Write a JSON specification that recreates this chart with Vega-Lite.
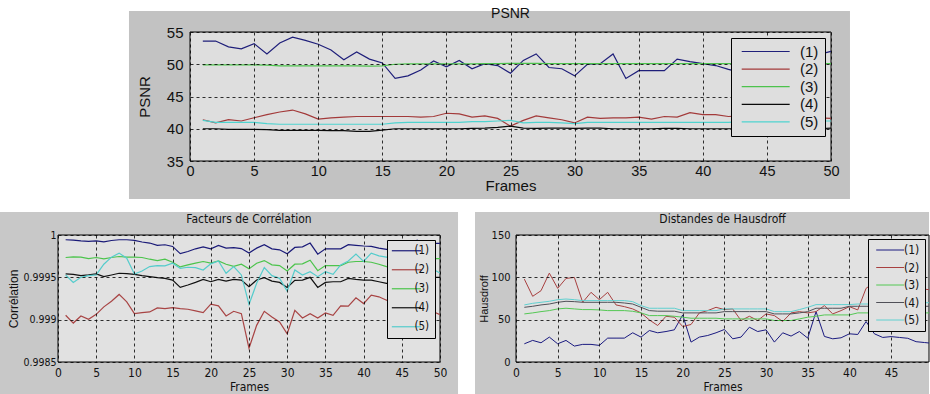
{
"$schema":"https://vega.github.io/schema/vega-lite/v6.json",
"background":"white",
"padding":{"top":6,"left":0,"right":0,"bottom":0},
"bounds":"full",
"spacing":12,
"config":{
 "view":{"stroke":null,"fill":null},
 "axis":{"grid":true,"gridColor":"#000000","gridDash":[3,3],"gridWidth":1,"gridOpacity":0.8,"domain":false,"ticks":false,"labelColor":"#111111","titleColor":"#111111","titleFontWeight":"normal","labelFlush":false,"labelOverlap":false},
 "title":{"color":"#111111","fontWeight":"normal","frame":"group"}
},
"resolve":{"scale":{"color":"independent","strokeWidth":"independent"},"legend":{"color":"independent"}},
"datasets":{
"psnr":[
{"f":1,"s":"(1)","v":53.6},{"f":2,"s":"(1)","v":53.6},{"f":3,"s":"(1)","v":52.7},{"f":4,"s":"(1)","v":52.4},{"f":5,"s":"(1)","v":53.2},{"f":6,"s":"(1)","v":51.6},{"f":7,"s":"(1)","v":53.3},{"f":8,"s":"(1)","v":54.2},{"f":9,"s":"(1)","v":53.7},{"f":10,"s":"(1)","v":53.1},
{"f":11,"s":"(1)","v":52.2},{"f":12,"s":"(1)","v":50.7},{"f":13,"s":"(1)","v":51.9},{"f":14,"s":"(1)","v":50.8},{"f":15,"s":"(1)","v":50.2},{"f":16,"s":"(1)","v":47.8},{"f":17,"s":"(1)","v":48.2},{"f":18,"s":"(1)","v":49.1},{"f":19,"s":"(1)","v":50.5},{"f":20,"s":"(1)","v":49.6},
{"f":21,"s":"(1)","v":50.6},{"f":22,"s":"(1)","v":49.3},{"f":23,"s":"(1)","v":50.1},{"f":24,"s":"(1)","v":49.8},{"f":25,"s":"(1)","v":48.6},{"f":26,"s":"(1)","v":50.6},{"f":27,"s":"(1)","v":51.6},{"f":28,"s":"(1)","v":49.5},{"f":29,"s":"(1)","v":49.3},{"f":30,"s":"(1)","v":48.2},
{"f":31,"s":"(1)","v":50.0},{"f":32,"s":"(1)","v":50.1},{"f":33,"s":"(1)","v":51.6},{"f":34,"s":"(1)","v":47.8},{"f":35,"s":"(1)","v":49.0},{"f":36,"s":"(1)","v":49.0},{"f":37,"s":"(1)","v":49.0},{"f":38,"s":"(1)","v":50.8},{"f":39,"s":"(1)","v":50.4},{"f":40,"s":"(1)","v":50.1},
{"f":41,"s":"(1)","v":49.8},{"f":42,"s":"(1)","v":49.2},{"f":43,"s":"(1)","v":48.7},{"f":44,"s":"(1)","v":49.2},{"f":45,"s":"(1)","v":50.1},{"f":46,"s":"(1)","v":49.6},{"f":47,"s":"(1)","v":50.3},{"f":48,"s":"(1)","v":50.8},{"f":49,"s":"(1)","v":51.5},{"f":50,"s":"(1)","v":52.0},
{"f":1,"s":"(2)","v":41.4},{"f":2,"s":"(2)","v":40.9},{"f":3,"s":"(2)","v":41.4},{"f":4,"s":"(2)","v":41.2},{"f":5,"s":"(2)","v":41.7},{"f":6,"s":"(2)","v":42.2},{"f":7,"s":"(2)","v":42.6},{"f":8,"s":"(2)","v":42.9},{"f":9,"s":"(2)","v":42.3},{"f":10,"s":"(2)","v":41.5},
{"f":11,"s":"(2)","v":41.7},{"f":12,"s":"(2)","v":41.8},{"f":13,"s":"(2)","v":41.9},{"f":14,"s":"(2)","v":41.9},{"f":15,"s":"(2)","v":41.9},{"f":16,"s":"(2)","v":41.9},{"f":17,"s":"(2)","v":41.9},{"f":18,"s":"(2)","v":41.8},{"f":19,"s":"(2)","v":41.9},{"f":20,"s":"(2)","v":42.4},
{"f":21,"s":"(2)","v":42.3},{"f":22,"s":"(2)","v":41.8},{"f":23,"s":"(2)","v":42.0},{"f":24,"s":"(2)","v":41.6},{"f":25,"s":"(2)","v":40.4},{"f":26,"s":"(2)","v":41.3},{"f":27,"s":"(2)","v":42.0},{"f":28,"s":"(2)","v":41.7},{"f":29,"s":"(2)","v":41.4},{"f":30,"s":"(2)","v":40.9},
{"f":31,"s":"(2)","v":41.8},{"f":32,"s":"(2)","v":41.6},{"f":33,"s":"(2)","v":41.7},{"f":34,"s":"(2)","v":41.7},{"f":35,"s":"(2)","v":41.8},{"f":36,"s":"(2)","v":41.5},{"f":37,"s":"(2)","v":41.9},{"f":38,"s":"(2)","v":41.8},{"f":39,"s":"(2)","v":42.5},{"f":40,"s":"(2)","v":42.2},
{"f":41,"s":"(2)","v":42.2},{"f":42,"s":"(2)","v":41.9},{"f":43,"s":"(2)","v":42.0},{"f":44,"s":"(2)","v":42.1},{"f":45,"s":"(2)","v":42.0},{"f":46,"s":"(2)","v":41.9},{"f":47,"s":"(2)","v":42.0},{"f":48,"s":"(2)","v":41.8},{"f":49,"s":"(2)","v":41.7},{"f":50,"s":"(2)","v":41.6},
{"f":1,"s":"(3)","v":49.9},{"f":2,"s":"(3)","v":49.9},{"f":3,"s":"(3)","v":49.9},{"f":4,"s":"(3)","v":49.9},{"f":5,"s":"(3)","v":49.9},{"f":6,"s":"(3)","v":49.85},{"f":7,"s":"(3)","v":49.75},{"f":8,"s":"(3)","v":49.75},{"f":9,"s":"(3)","v":49.75},{"f":10,"s":"(3)","v":49.75},
{"f":11,"s":"(3)","v":49.75},{"f":12,"s":"(3)","v":49.75},{"f":13,"s":"(3)","v":49.75},{"f":14,"s":"(3)","v":49.7},{"f":15,"s":"(3)","v":49.75},{"f":16,"s":"(3)","v":50.0},{"f":17,"s":"(3)","v":50.05},{"f":18,"s":"(3)","v":50.05},{"f":19,"s":"(3)","v":50.05},{"f":20,"s":"(3)","v":50.05},
{"f":21,"s":"(3)","v":50.05},{"f":22,"s":"(3)","v":50.05},{"f":23,"s":"(3)","v":50.1},{"f":24,"s":"(3)","v":50.1},{"f":25,"s":"(3)","v":50.15},{"f":26,"s":"(3)","v":50.15},{"f":27,"s":"(3)","v":50.15},{"f":28,"s":"(3)","v":50.1},{"f":29,"s":"(3)","v":50.1},{"f":30,"s":"(3)","v":50.1},
{"f":31,"s":"(3)","v":50.1},{"f":32,"s":"(3)","v":50.1},{"f":33,"s":"(3)","v":50.1},{"f":34,"s":"(3)","v":50.1},{"f":35,"s":"(3)","v":50.1},{"f":36,"s":"(3)","v":50.1},{"f":37,"s":"(3)","v":50.1},{"f":38,"s":"(3)","v":50.1},{"f":39,"s":"(3)","v":50.1},{"f":40,"s":"(3)","v":50.1},
{"f":41,"s":"(3)","v":50.1},{"f":42,"s":"(3)","v":50.1},{"f":43,"s":"(3)","v":50.1},{"f":44,"s":"(3)","v":50.1},{"f":45,"s":"(3)","v":50.1},{"f":46,"s":"(3)","v":50.1},{"f":47,"s":"(3)","v":50.1},{"f":48,"s":"(3)","v":50.1},{"f":49,"s":"(3)","v":50.1},{"f":50,"s":"(3)","v":50.1},
{"f":1,"s":"(4)","v":40.0},{"f":2,"s":"(4)","v":40.0},{"f":3,"s":"(4)","v":39.9},{"f":4,"s":"(4)","v":39.9},{"f":5,"s":"(4)","v":39.9},{"f":6,"s":"(4)","v":39.85},{"f":7,"s":"(4)","v":39.75},{"f":8,"s":"(4)","v":39.75},{"f":9,"s":"(4)","v":39.75},{"f":10,"s":"(4)","v":39.75},
{"f":11,"s":"(4)","v":39.7},{"f":12,"s":"(4)","v":39.7},{"f":13,"s":"(4)","v":39.6},{"f":14,"s":"(4)","v":39.6},{"f":15,"s":"(4)","v":39.8},{"f":16,"s":"(4)","v":40.0},{"f":17,"s":"(4)","v":40.0},{"f":18,"s":"(4)","v":40.0},{"f":19,"s":"(4)","v":40.0},{"f":20,"s":"(4)","v":40.0},
{"f":21,"s":"(4)","v":40.0},{"f":22,"s":"(4)","v":40.05},{"f":23,"s":"(4)","v":40.1},{"f":24,"s":"(4)","v":40.2},{"f":25,"s":"(4)","v":40.4},{"f":26,"s":"(4)","v":40.1},{"f":27,"s":"(4)","v":40.05},{"f":28,"s":"(4)","v":40.1},{"f":29,"s":"(4)","v":40.1},{"f":30,"s":"(4)","v":40.05},
{"f":31,"s":"(4)","v":40.1},{"f":32,"s":"(4)","v":40.1},{"f":33,"s":"(4)","v":40.0},{"f":34,"s":"(4)","v":40.0},{"f":35,"s":"(4)","v":40.0},{"f":36,"s":"(4)","v":40.0},{"f":37,"s":"(4)","v":40.05},{"f":38,"s":"(4)","v":40.05},{"f":39,"s":"(4)","v":40.0},{"f":40,"s":"(4)","v":40.0},
{"f":41,"s":"(4)","v":40.0},{"f":42,"s":"(4)","v":40.0},{"f":43,"s":"(4)","v":40.0},{"f":44,"s":"(4)","v":40.0},{"f":45,"s":"(4)","v":40.0},{"f":46,"s":"(4)","v":40.0},{"f":47,"s":"(4)","v":40.0},{"f":48,"s":"(4)","v":40.0},{"f":49,"s":"(4)","v":40.0},{"f":50,"s":"(4)","v":40.1},
{"f":1,"s":"(5)","v":41.3},{"f":2,"s":"(5)","v":41.0},{"f":3,"s":"(5)","v":41.0},{"f":4,"s":"(5)","v":41.0},{"f":5,"s":"(5)","v":41.0},{"f":6,"s":"(5)","v":40.8},{"f":7,"s":"(5)","v":40.7},{"f":8,"s":"(5)","v":40.7},{"f":9,"s":"(5)","v":40.7},{"f":10,"s":"(5)","v":40.7},
{"f":11,"s":"(5)","v":40.7},{"f":12,"s":"(5)","v":40.7},{"f":13,"s":"(5)","v":40.7},{"f":14,"s":"(5)","v":40.7},{"f":15,"s":"(5)","v":40.7},{"f":16,"s":"(5)","v":40.9},{"f":17,"s":"(5)","v":41.0},{"f":18,"s":"(5)","v":41.0},{"f":19,"s":"(5)","v":41.0},{"f":20,"s":"(5)","v":41.0},
{"f":21,"s":"(5)","v":41.0},{"f":22,"s":"(5)","v":41.1},{"f":23,"s":"(5)","v":41.1},{"f":24,"s":"(5)","v":41.2},{"f":25,"s":"(5)","v":41.3},{"f":26,"s":"(5)","v":40.9},{"f":27,"s":"(5)","v":41.0},{"f":28,"s":"(5)","v":41.0},{"f":29,"s":"(5)","v":40.9},{"f":30,"s":"(5)","v":40.8},
{"f":31,"s":"(5)","v":41.0},{"f":32,"s":"(5)","v":41.0},{"f":33,"s":"(5)","v":41.0},{"f":34,"s":"(5)","v":41.0},{"f":35,"s":"(5)","v":41.0},{"f":36,"s":"(5)","v":41.0},{"f":37,"s":"(5)","v":41.0},{"f":38,"s":"(5)","v":41.0},{"f":39,"s":"(5)","v":41.0},{"f":40,"s":"(5)","v":41.0},
{"f":41,"s":"(5)","v":41.0},{"f":42,"s":"(5)","v":41.0},{"f":43,"s":"(5)","v":41.1},{"f":44,"s":"(5)","v":41.1},{"f":45,"s":"(5)","v":41.1},{"f":46,"s":"(5)","v":41.1},{"f":47,"s":"(5)","v":41.1},{"f":48,"s":"(5)","v":41.1},{"f":49,"s":"(5)","v":41.2},{"f":50,"s":"(5)","v":41.2}
],
"corr":[
{"f":1,"s":"(1)","v":0.999944},{"f":2,"s":"(1)","v":0.99994},{"f":3,"s":"(1)","v":0.99993},{"f":4,"s":"(1)","v":0.999925},{"f":5,"s":"(1)","v":0.99993},{"f":6,"s":"(1)","v":0.99992},{"f":7,"s":"(1)","v":0.999935},{"f":8,"s":"(1)","v":0.999944},{"f":9,"s":"(1)","v":0.999944},{"f":10,"s":"(1)","v":0.999937},
{"f":11,"s":"(1)","v":0.999917},{"f":12,"s":"(1)","v":0.999905},{"f":13,"s":"(1)","v":0.999877},{"f":14,"s":"(1)","v":0.999885},{"f":15,"s":"(1)","v":0.999865},{"f":16,"s":"(1)","v":0.99978},{"f":17,"s":"(1)","v":0.999805},{"f":18,"s":"(1)","v":0.999837},{"f":19,"s":"(1)","v":0.99986},{"f":20,"s":"(1)","v":0.999837},
{"f":21,"s":"(1)","v":0.999877},{"f":22,"s":"(1)","v":0.999845},{"f":23,"s":"(1)","v":0.99985},{"f":24,"s":"(1)","v":0.99984},{"f":25,"s":"(1)","v":0.999786},{"f":26,"s":"(1)","v":0.999845},{"f":27,"s":"(1)","v":0.999885},{"f":28,"s":"(1)","v":0.999837},{"f":29,"s":"(1)","v":0.999825},{"f":30,"s":"(1)","v":0.999778},
{"f":31,"s":"(1)","v":0.999853},{"f":32,"s":"(1)","v":0.99986},{"f":33,"s":"(1)","v":0.999905},{"f":34,"s":"(1)","v":0.999774},{"f":35,"s":"(1)","v":0.999837},{"f":36,"s":"(1)","v":0.999837},{"f":37,"s":"(1)","v":0.999837},{"f":38,"s":"(1)","v":0.999885},{"f":39,"s":"(1)","v":0.999877},{"f":40,"s":"(1)","v":0.99987},
{"f":41,"s":"(1)","v":0.999865},{"f":42,"s":"(1)","v":0.999845},{"f":43,"s":"(1)","v":0.99983},{"f":44,"s":"(1)","v":0.99984},{"f":45,"s":"(1)","v":0.99982},{"f":46,"s":"(1)","v":0.99983},{"f":47,"s":"(1)","v":0.99994},{"f":48,"s":"(1)","v":0.99991},{"f":49,"s":"(1)","v":0.9999},{"f":50,"s":"(1)","v":0.9999},
{"f":1,"s":"(2)","v":0.999052},{"f":2,"s":"(2)","v":0.99896},{"f":3,"s":"(2)","v":0.999044},{"f":4,"s":"(2)","v":0.999004},{"f":5,"s":"(2)","v":0.999063},{"f":6,"s":"(2)","v":0.999151},{"f":7,"s":"(2)","v":0.999218},{"f":8,"s":"(2)","v":0.999298},{"f":9,"s":"(2)","v":0.99921},{"f":10,"s":"(2)","v":0.999071},
{"f":11,"s":"(2)","v":0.999083},{"f":12,"s":"(2)","v":0.999091},{"f":13,"s":"(2)","v":0.999139},{"f":14,"s":"(2)","v":0.999131},{"f":15,"s":"(2)","v":0.999143},{"f":16,"s":"(2)","v":0.999131},{"f":17,"s":"(2)","v":0.999123},{"f":18,"s":"(2)","v":0.999103},{"f":19,"s":"(2)","v":0.999083},{"f":20,"s":"(2)","v":0.999183},
{"f":21,"s":"(2)","v":0.999163},{"f":22,"s":"(2)","v":0.999044},{"f":23,"s":"(2)","v":0.999099},{"f":24,"s":"(2)","v":0.999071},{"f":25,"s":"(2)","v":0.998663},{"f":26,"s":"(2)","v":0.998933},{"f":27,"s":"(2)","v":0.999099},{"f":28,"s":"(2)","v":0.999032},{"f":29,"s":"(2)","v":0.998972},{"f":30,"s":"(2)","v":0.998833},
{"f":31,"s":"(2)","v":0.999111},{"f":32,"s":"(2)","v":0.99902},{"f":33,"s":"(2)","v":0.999071},{"f":34,"s":"(2)","v":0.99902},{"f":35,"s":"(2)","v":0.999079},{"f":36,"s":"(2)","v":0.999052},{"f":37,"s":"(2)","v":0.999163},{"f":38,"s":"(2)","v":0.999159},{"f":39,"s":"(2)","v":0.999258},{"f":40,"s":"(2)","v":0.99919},
{"f":41,"s":"(2)","v":0.99929},{"f":42,"s":"(2)","v":0.99927},{"f":43,"s":"(2)","v":0.99923},{"f":44,"s":"(2)","v":0.99921},{"f":45,"s":"(2)","v":0.99919},{"f":46,"s":"(2)","v":0.99918},{"f":47,"s":"(2)","v":0.99917},{"f":48,"s":"(2)","v":0.99915},{"f":49,"s":"(2)","v":0.9991},{"f":50,"s":"(2)","v":0.99906},
{"f":1,"s":"(3)","v":0.999734},{"f":2,"s":"(3)","v":0.999742},{"f":3,"s":"(3)","v":0.999738},{"f":4,"s":"(3)","v":0.999722},{"f":5,"s":"(3)","v":0.999734},{"f":6,"s":"(3)","v":0.999718},{"f":7,"s":"(3)","v":0.999734},{"f":8,"s":"(3)","v":0.999746},{"f":9,"s":"(3)","v":0.999738},{"f":10,"s":"(3)","v":0.999738},
{"f":11,"s":"(3)","v":0.999734},{"f":12,"s":"(3)","v":0.999714},{"f":13,"s":"(3)","v":0.999698},{"f":14,"s":"(3)","v":0.999714},{"f":15,"s":"(3)","v":0.999678},{"f":16,"s":"(3)","v":0.999623},{"f":17,"s":"(3)","v":0.999647},{"f":18,"s":"(3)","v":0.999667},{"f":19,"s":"(3)","v":0.999687},{"f":20,"s":"(3)","v":0.999667},
{"f":21,"s":"(3)","v":0.999694},{"f":22,"s":"(3)","v":0.999655},{"f":23,"s":"(3)","v":0.99963},{"f":24,"s":"(3)","v":0.999655},{"f":25,"s":"(3)","v":0.9996},{"f":26,"s":"(3)","v":0.999667},{"f":27,"s":"(3)","v":0.999698},{"f":28,"s":"(3)","v":0.999647},{"f":29,"s":"(3)","v":0.999639},{"f":30,"s":"(3)","v":0.999575},
{"f":31,"s":"(3)","v":0.999655},{"f":32,"s":"(3)","v":0.999659},{"f":33,"s":"(3)","v":0.999702},{"f":34,"s":"(3)","v":0.999579},{"f":35,"s":"(3)","v":0.999639},{"f":36,"s":"(3)","v":0.999639},{"f":37,"s":"(3)","v":0.999639},{"f":38,"s":"(3)","v":0.999678},{"f":39,"s":"(3)","v":0.999687},{"f":40,"s":"(3)","v":0.999687},
{"f":41,"s":"(3)","v":0.999678},{"f":42,"s":"(3)","v":0.999655},{"f":43,"s":"(3)","v":0.999627},{"f":44,"s":"(3)","v":0.99962},{"f":45,"s":"(3)","v":0.99963},{"f":46,"s":"(3)","v":0.99966},{"f":47,"s":"(3)","v":0.99969},{"f":48,"s":"(3)","v":0.99971},{"f":49,"s":"(3)","v":0.99972},{"f":50,"s":"(3)","v":0.99972},
{"f":1,"s":"(4)","v":0.99954},{"f":2,"s":"(4)","v":0.999536},{"f":3,"s":"(4)","v":0.99952},{"f":4,"s":"(4)","v":0.999528},{"f":5,"s":"(4)","v":0.99954},{"f":6,"s":"(4)","v":0.999508},{"f":7,"s":"(4)","v":0.999528},{"f":8,"s":"(4)","v":0.999548},{"f":9,"s":"(4)","v":0.999544},{"f":10,"s":"(4)","v":0.999536},
{"f":11,"s":"(4)","v":0.99952},{"f":12,"s":"(4)","v":0.999508},{"f":13,"s":"(4)","v":0.999496},{"f":14,"s":"(4)","v":0.999488},{"f":15,"s":"(4)","v":0.999468},{"f":16,"s":"(4)","v":0.999381},{"f":17,"s":"(4)","v":0.999409},{"f":18,"s":"(4)","v":0.99944},{"f":19,"s":"(4)","v":0.999476},{"f":20,"s":"(4)","v":0.999448},
{"f":21,"s":"(4)","v":0.999476},{"f":22,"s":"(4)","v":0.999456},{"f":23,"s":"(4)","v":0.999476},{"f":24,"s":"(4)","v":0.999468},{"f":25,"s":"(4)","v":0.999389},{"f":26,"s":"(4)","v":0.999468},{"f":27,"s":"(4)","v":0.999496},{"f":28,"s":"(4)","v":0.999456},{"f":29,"s":"(4)","v":0.99944},{"f":30,"s":"(4)","v":0.999381},
{"f":31,"s":"(4)","v":0.999464},{"f":32,"s":"(4)","v":0.999468},{"f":33,"s":"(4)","v":0.9995},{"f":34,"s":"(4)","v":0.999381},{"f":35,"s":"(4)","v":0.99944},{"f":36,"s":"(4)","v":0.999448},{"f":37,"s":"(4)","v":0.999448},{"f":38,"s":"(4)","v":0.999488},{"f":39,"s":"(4)","v":0.999476},{"f":40,"s":"(4)","v":0.999468},
{"f":41,"s":"(4)","v":0.999468},{"f":42,"s":"(4)","v":0.999448},{"f":43,"s":"(4)","v":0.999429},{"f":44,"s":"(4)","v":0.99943},{"f":45,"s":"(4)","v":0.99944},{"f":46,"s":"(4)","v":0.99946},{"f":47,"s":"(4)","v":0.99948},{"f":48,"s":"(4)","v":0.9995},{"f":49,"s":"(4)","v":0.9995},{"f":50,"s":"(4)","v":0.9995},
{"f":1,"s":"(5)","v":0.999528},{"f":2,"s":"(5)","v":0.99944},{"f":3,"s":"(5)","v":0.9995},{"f":4,"s":"(5)","v":0.99952},{"f":5,"s":"(5)","v":0.999528},{"f":6,"s":"(5)","v":0.999655},{"f":7,"s":"(5)","v":0.999738},{"f":8,"s":"(5)","v":0.999786},{"f":9,"s":"(5)","v":0.999726},{"f":10,"s":"(5)","v":0.99954},
{"f":11,"s":"(5)","v":0.999575},{"f":12,"s":"(5)","v":0.999627},{"f":13,"s":"(5)","v":0.999639},{"f":14,"s":"(5)","v":0.999635},{"f":15,"s":"(5)","v":0.999667},{"f":16,"s":"(5)","v":0.999607},{"f":17,"s":"(5)","v":0.999619},{"f":18,"s":"(5)","v":0.999615},{"f":19,"s":"(5)","v":0.999587},{"f":20,"s":"(5)","v":0.999659},
{"f":21,"s":"(5)","v":0.999694},{"f":22,"s":"(5)","v":0.999548},{"f":23,"s":"(5)","v":0.999627},{"f":24,"s":"(5)","v":0.999528},{"f":25,"s":"(5)","v":0.999179},{"f":26,"s":"(5)","v":0.999429},{"f":27,"s":"(5)","v":0.999615},{"f":28,"s":"(5)","v":0.99952},{"f":29,"s":"(5)","v":0.999488},{"f":30,"s":"(5)","v":0.999337},
{"f":31,"s":"(5)","v":0.999587},{"f":32,"s":"(5)","v":0.999528},{"f":33,"s":"(5)","v":0.999567},{"f":34,"s":"(5)","v":0.999508},{"f":35,"s":"(5)","v":0.999567},{"f":36,"s":"(5)","v":0.999536},{"f":37,"s":"(5)","v":0.999647},{"f":38,"s":"(5)","v":0.999694},{"f":39,"s":"(5)","v":0.999774},{"f":40,"s":"(5)","v":0.999687},
{"f":41,"s":"(5)","v":0.999786},{"f":42,"s":"(5)","v":0.999754},{"f":43,"s":"(5)","v":0.999738},{"f":44,"s":"(5)","v":0.99972},{"f":45,"s":"(5)","v":0.9997},{"f":46,"s":"(5)","v":0.99968},{"f":47,"s":"(5)","v":0.99967},{"f":48,"s":"(5)","v":0.99965},{"f":49,"s":"(5)","v":0.9996},{"f":50,"s":"(5)","v":0.99955}
],
"haus":[
{"f":1,"s":"(1)","v":21.5},{"f":2,"s":"(1)","v":25.5},{"f":3,"s":"(1)","v":22.7},{"f":4,"s":"(1)","v":29.4},{"f":5,"s":"(1)","v":21.5},{"f":6,"s":"(1)","v":25.5},{"f":7,"s":"(1)","v":18.8},{"f":8,"s":"(1)","v":20.8},{"f":9,"s":"(1)","v":20.8},{"f":10,"s":"(1)","v":19.6},
{"f":11,"s":"(1)","v":28.2},{"f":12,"s":"(1)","v":28.2},{"f":13,"s":"(1)","v":28.2},{"f":14,"s":"(1)","v":34.5},{"f":15,"s":"(1)","v":29.4},{"f":16,"s":"(1)","v":37.2},{"f":17,"s":"(1)","v":34.5},{"f":18,"s":"(1)","v":36},{"f":19,"s":"(1)","v":38},{"f":20,"s":"(1)","v":55.6},
{"f":21,"s":"(1)","v":23.5},{"f":22,"s":"(1)","v":29.4},{"f":23,"s":"(1)","v":31.3},{"f":24,"s":"(1)","v":34.5},{"f":25,"s":"(1)","v":38.4},{"f":26,"s":"(1)","v":27.4},{"f":27,"s":"(1)","v":29.4},{"f":28,"s":"(1)","v":41.1},{"f":29,"s":"(1)","v":36},{"f":30,"s":"(1)","v":38},
{"f":31,"s":"(1)","v":23.5},{"f":32,"s":"(1)","v":34.5},{"f":33,"s":"(1)","v":30.6},{"f":34,"s":"(1)","v":36},{"f":35,"s":"(1)","v":28.2},{"f":36,"s":"(1)","v":59.5},{"f":37,"s":"(1)","v":30.2},{"f":38,"s":"(1)","v":27.4},{"f":39,"s":"(1)","v":28.6},{"f":40,"s":"(1)","v":33.3},
{"f":41,"s":"(1)","v":32.5},{"f":42,"s":"(1)","v":47.8},{"f":43,"s":"(1)","v":33.3},{"f":44,"s":"(1)","v":29},{"f":45,"s":"(1)","v":30},{"f":46,"s":"(1)","v":29},{"f":47,"s":"(1)","v":28},{"f":48,"s":"(1)","v":24},{"f":49,"s":"(1)","v":23},{"f":50,"s":"(1)","v":22},
{"f":1,"s":"(2)","v":97.9},{"f":2,"s":"(2)","v":77.6},{"f":3,"s":"(2)","v":84.2},{"f":4,"s":"(2)","v":105},{"f":5,"s":"(2)","v":87},{"f":6,"s":"(2)","v":98.7},{"f":7,"s":"(2)","v":99.9},{"f":8,"s":"(2)","v":70.5},{"f":9,"s":"(2)","v":82.3},{"f":10,"s":"(2)","v":73.6},
{"f":11,"s":"(2)","v":82.3},{"f":12,"s":"(2)","v":67.4},{"f":13,"s":"(2)","v":65.4},{"f":14,"s":"(2)","v":62.7},{"f":15,"s":"(2)","v":58},{"f":16,"s":"(2)","v":49.7},{"f":17,"s":"(2)","v":43.1},{"f":18,"s":"(2)","v":54},{"f":19,"s":"(2)","v":52.9},{"f":20,"s":"(2)","v":41.9},
{"f":21,"s":"(2)","v":44.3},{"f":22,"s":"(2)","v":58},{"f":23,"s":"(2)","v":60.7},{"f":24,"s":"(2)","v":64.6},{"f":25,"s":"(2)","v":61.9},{"f":26,"s":"(2)","v":62.7},{"f":27,"s":"(2)","v":49},{"f":28,"s":"(2)","v":54},{"f":29,"s":"(2)","v":49},{"f":30,"s":"(2)","v":56.8},
{"f":31,"s":"(2)","v":54.8},{"f":32,"s":"(2)","v":47.8},{"f":33,"s":"(2)","v":58},{"f":34,"s":"(2)","v":59.5},{"f":35,"s":"(2)","v":58},{"f":36,"s":"(2)","v":59.5},{"f":37,"s":"(2)","v":66.6},{"f":38,"s":"(2)","v":56.8},{"f":39,"s":"(2)","v":60.7},{"f":40,"s":"(2)","v":65.4},
{"f":41,"s":"(2)","v":61.5},{"f":42,"s":"(2)","v":87},{"f":43,"s":"(2)","v":94},{"f":44,"s":"(2)","v":95},{"f":45,"s":"(2)","v":92},{"f":46,"s":"(2)","v":90},{"f":47,"s":"(2)","v":89},{"f":48,"s":"(2)","v":88},{"f":49,"s":"(2)","v":86},{"f":50,"s":"(2)","v":85},
{"f":1,"s":"(3)","v":56.8},{"f":2,"s":"(3)","v":58},{"f":3,"s":"(3)","v":59.5},{"f":4,"s":"(3)","v":60.7},{"f":5,"s":"(3)","v":62.7},{"f":6,"s":"(3)","v":63.5},{"f":7,"s":"(3)","v":62.7},{"f":8,"s":"(3)","v":61.9},{"f":9,"s":"(3)","v":61.9},{"f":10,"s":"(3)","v":61.5},
{"f":11,"s":"(3)","v":60.7},{"f":12,"s":"(3)","v":60.7},{"f":13,"s":"(3)","v":60.7},{"f":14,"s":"(3)","v":59.9},{"f":15,"s":"(3)","v":58},{"f":16,"s":"(3)","v":54.8},{"f":17,"s":"(3)","v":54.8},{"f":18,"s":"(3)","v":54.8},{"f":19,"s":"(3)","v":54},{"f":20,"s":"(3)","v":52.9},
{"f":21,"s":"(3)","v":51.7},{"f":22,"s":"(3)","v":51.7},{"f":23,"s":"(3)","v":51.7},{"f":24,"s":"(3)","v":51.7},{"f":25,"s":"(3)","v":50.9},{"f":26,"s":"(3)","v":50.9},{"f":27,"s":"(3)","v":50.9},{"f":28,"s":"(3)","v":50.9},{"f":29,"s":"(3)","v":50.9},{"f":30,"s":"(3)","v":50.9},
{"f":31,"s":"(3)","v":49},{"f":32,"s":"(3)","v":49},{"f":33,"s":"(3)","v":49},{"f":34,"s":"(3)","v":50.9},{"f":35,"s":"(3)","v":52.9},{"f":36,"s":"(3)","v":54},{"f":37,"s":"(3)","v":55.6},{"f":38,"s":"(3)","v":55.6},{"f":39,"s":"(3)","v":55.6},{"f":40,"s":"(3)","v":55.6},
{"f":41,"s":"(3)","v":58},{"f":42,"s":"(3)","v":58},{"f":43,"s":"(3)","v":58},{"f":44,"s":"(3)","v":58},{"f":45,"s":"(3)","v":58},{"f":46,"s":"(3)","v":58},{"f":47,"s":"(3)","v":58},{"f":48,"s":"(3)","v":58},{"f":49,"s":"(3)","v":58},{"f":50,"s":"(3)","v":58},
{"f":1,"s":"(4)","v":64.6},{"f":2,"s":"(4)","v":65.8},{"f":3,"s":"(4)","v":67.4},{"f":4,"s":"(4)","v":68.5},{"f":5,"s":"(4)","v":70.5},{"f":6,"s":"(4)","v":71.7},{"f":7,"s":"(4)","v":71.3},{"f":8,"s":"(4)","v":70.5},{"f":9,"s":"(4)","v":70.5},{"f":10,"s":"(4)","v":70.5},
{"f":11,"s":"(4)","v":70.5},{"f":12,"s":"(4)","v":70.5},{"f":13,"s":"(4)","v":69.7},{"f":14,"s":"(4)","v":68.5},{"f":15,"s":"(4)","v":64.6},{"f":16,"s":"(4)","v":60.7},{"f":17,"s":"(4)","v":60},{"f":18,"s":"(4)","v":60},{"f":19,"s":"(4)","v":60},{"f":20,"s":"(4)","v":58},
{"f":21,"s":"(4)","v":58},{"f":22,"s":"(4)","v":58},{"f":23,"s":"(4)","v":58},{"f":24,"s":"(4)","v":58},{"f":25,"s":"(4)","v":59.5},{"f":26,"s":"(4)","v":59.5},{"f":27,"s":"(4)","v":59.5},{"f":28,"s":"(4)","v":59.5},{"f":29,"s":"(4)","v":59.5},{"f":30,"s":"(4)","v":59.5},
{"f":31,"s":"(4)","v":56.8},{"f":32,"s":"(4)","v":56.8},{"f":33,"s":"(4)","v":56.8},{"f":34,"s":"(4)","v":58},{"f":35,"s":"(4)","v":59.5},{"f":36,"s":"(4)","v":63.5},{"f":37,"s":"(4)","v":63.5},{"f":38,"s":"(4)","v":63.5},{"f":39,"s":"(4)","v":63.5},{"f":40,"s":"(4)","v":65.8},
{"f":41,"s":"(4)","v":65.8},{"f":42,"s":"(4)","v":65.8},{"f":43,"s":"(4)","v":65.8},{"f":44,"s":"(4)","v":65.8},{"f":45,"s":"(4)","v":65.8},{"f":46,"s":"(4)","v":65.8},{"f":47,"s":"(4)","v":65.8},{"f":48,"s":"(4)","v":65.8},{"f":49,"s":"(4)","v":65.8},{"f":50,"s":"(4)","v":65.8},
{"f":1,"s":"(5)","v":67.4},{"f":2,"s":"(5)","v":69.3},{"f":3,"s":"(5)","v":70.5},{"f":4,"s":"(5)","v":71.7},{"f":5,"s":"(5)","v":73.6},{"f":6,"s":"(5)","v":74.4},{"f":7,"s":"(5)","v":73.6},{"f":8,"s":"(5)","v":72.5},{"f":9,"s":"(5)","v":72.5},{"f":10,"s":"(5)","v":72.5},
{"f":11,"s":"(5)","v":72.5},{"f":12,"s":"(5)","v":72.5},{"f":13,"s":"(5)","v":72.5},{"f":14,"s":"(5)","v":71.3},{"f":15,"s":"(5)","v":66.6},{"f":16,"s":"(5)","v":63.5},{"f":17,"s":"(5)","v":63.5},{"f":18,"s":"(5)","v":63.5},{"f":19,"s":"(5)","v":63.5},{"f":20,"s":"(5)","v":60.7},
{"f":21,"s":"(5)","v":60.7},{"f":22,"s":"(5)","v":60.7},{"f":23,"s":"(5)","v":60.7},{"f":24,"s":"(5)","v":60.7},{"f":25,"s":"(5)","v":62.7},{"f":26,"s":"(5)","v":62.7},{"f":27,"s":"(5)","v":62.7},{"f":28,"s":"(5)","v":62.7},{"f":29,"s":"(5)","v":62.7},{"f":30,"s":"(5)","v":62.7},
{"f":31,"s":"(5)","v":59.5},{"f":32,"s":"(5)","v":59.5},{"f":33,"s":"(5)","v":59.5},{"f":34,"s":"(5)","v":61.9},{"f":35,"s":"(5)","v":64.6},{"f":36,"s":"(5)","v":67.8},{"f":37,"s":"(5)","v":67.8},{"f":38,"s":"(5)","v":67.8},{"f":39,"s":"(5)","v":67.8},{"f":40,"s":"(5)","v":67.8},
{"f":41,"s":"(5)","v":68.5},{"f":42,"s":"(5)","v":68.5},{"f":43,"s":"(5)","v":68.5},{"f":44,"s":"(5)","v":69},{"f":45,"s":"(5)","v":69.5},{"f":46,"s":"(5)","v":70},{"f":47,"s":"(5)","v":70},{"f":48,"s":"(5)","v":70},{"f":49,"s":"(5)","v":70},{"f":50,"s":"(5)","v":70}
]
},
"vconcat":[
{"hconcat":[
  {"width":122,"height":129,"data":{"values":[{}]},"mark":{"type":"text","text":""}},
  {"width":641,"height":129,
   "title":{"text":"PSNR","font":"Liberation Sans","fontSize":14,"offset":-10},
   "layer":[
    {"data":{"values":[{}]},"mark":{"type":"rect","fill":"#c2c2c2"},
     "encoding":{"x":{"datum":-4.76},"x2":{"datum":51.48},"y":{"datum":58.26},"y2":{"datum":29.11}}},
    {"data":{"values":[{}]},"mark":{"type":"rect","fill":"#dedede","stroke":"#000000","strokeWidth":1},
     "encoding":{"x":{"datum":0},"x2":{"datum":50},"y":{"datum":55},"y2":{"datum":35}}},
    {"data":{"name":"psnr"},"mark":{"type":"line","clip":true},
     "encoding":{
      "x":{"field":"f","type":"quantitative","scale":{"domain":[0,50],"nice":false},
           "axis":{"zindex":1,"tickCount":11,"labelOverlap":false,"values":[0,5,10,15,20,25,30,35,40,45,50],"title":"Frames","labelFont":"Liberation Sans","labelFontSize":14.5,"titleFont":"Liberation Sans","titleFontSize":15,"labelPadding":3,"titlePadding":1}},
      "y":{"field":"v","type":"quantitative","scale":{"domain":[35,55],"nice":false,"zero":false},
           "axis":{"zindex":1,"tickCount":5,"labelOverlap":false,"values":[35,40,45,50,55],"title":"PSNR","labelFont":"Liberation Sans","labelFontSize":15,"titleFont":"Liberation Sans","titleFontSize":15,"labelPadding":7,"titlePadding":14}},
      "color":{"field":"s","type":"nominal","scale":{"domain":["(1)","(2)","(3)","(4)","(5)"],"range":["#1f1f7a","#a33a3a","#4cc24c","#0a0a0a","#4fd3cf"]},
           "legend":{"title":null,"orient":"top-right","offset":6,"zindex":2,"fillColor":"#dedede","strokeColor":"#000000","padding":6,"symbolType":"M-1,0L9,0","symbolSize":92,"symbolStrokeWidth":2,"symbolOffset":2,"labelOffset":46,"labelFont":"Liberation Sans","labelFontSize":15,"labelColor":"#111111","rowPadding":1.6}},
      "strokeWidth":{"field":"s","type":"ordinal","scale":{"domain":["(1)","(2)","(3)","(4)","(5)"],"range":[1.2,1.2,2,1,2]},"legend":null}
     }}
   ]}
 ],"spacing":10,"bounds":"flush","resolve":{"scale":{"color":"independent","strokeWidth":"independent"},"legend":{"color":"independent"}}},
{"hconcat":[
  {"width":382,"height":127,
   "title":{"text":"Facteurs de Corrélation","font":"Liberation Sans Narrow, DejaVu Sans Condensed, sans-serif","fontSize":12,"offset":-14},
   "layer":[
    {"data":{"values":[{}]},"mark":{"type":"rect","fill":"#c8c8c8"},
     "encoding":{"x":{"datum":-7.59},"x2":{"datum":52.36},"y":{"datum":1.000272},"y2":{"datum":0.99811}}},
    {"data":{"values":[{}]},"mark":{"type":"rect","fill":"#e1e1e1","stroke":"#000000","strokeWidth":1},
     "encoding":{"x":{"datum":0},"x2":{"datum":50},"y":{"datum":1},"y2":{"datum":0.9985}}},
    {"data":{"name":"corr"},"mark":{"type":"line","clip":true},
     "encoding":{
      "x":{"field":"f","type":"quantitative","scale":{"domain":[0,50],"nice":false},
           "axis":{"zindex":1,"tickCount":11,"labelOverlap":false,"values":[0,5,10,15,20,25,30,35,40,45,50],"title":"Frames","labelFont":"Liberation Sans Narrow, DejaVu Sans Condensed, sans-serif","labelFontSize":12,"titleFont":"Liberation Sans Narrow, DejaVu Sans Condensed, sans-serif","titleFontSize":12,"labelPadding":5,"titlePadding":3}},
      "y":{"field":"v","type":"quantitative","scale":{"domain":[0.9985,1],"nice":false,"zero":false},
           "axis":{"zindex":1,"tickCount":4,"labelOverlap":false,"values":[0.9985,0.999,0.9995,1],"format":"~g","title":"Corrélation","labelFont":"Liberation Sans Narrow, DejaVu Sans Condensed, sans-serif","labelFontSize":10.5,"titleFont":"Liberation Sans","titleFontSize":12,"labelPadding":2,"titlePadding":2}},
      "color":{"field":"s","type":"nominal","scale":{"domain":["(1)","(2)","(3)","(4)","(5)"],"range":["#1a1a78","#a84444","#4cc44c","#111111","#55cccc"]},
           "legend":{"title":null,"orient":"top-right","offset":5,"zindex":2,"fillColor":"#e1e1e1","strokeColor":"#000000","padding":5,"symbolType":"M-1,0L9,0","symbolSize":34,"symbolStrokeWidth":1.5,"symbolOffset":-3,"labelOffset":14,"labelFont":"Liberation Sans Narrow, DejaVu Sans Condensed, sans-serif","labelFontSize":11.5,"labelColor":"#111111","rowPadding":6}},
      "strokeWidth":{"field":"s","type":"ordinal","scale":{"domain":["(1)","(2)","(3)","(4)","(5)"],"range":[1.2,1.2,1.6,1.2,1.4]},"legend":null}
     }}
   ]},
  {"width":413,"height":127,
   "title":{"text":"Distandes de Hausdroff","font":"Liberation Sans Narrow, DejaVu Sans Condensed, sans-serif","fontSize":12,"offset":-14},
   "layer":[
    {"data":{"values":[{}]},"mark":{"type":"rect","fill":"#c8c8c8"},
     "encoding":{"x":{"datum":-4.92},"x2":{"datum":49.55},"y":{"datum":177.2},"y2":{"datum":-39}}},
    {"data":{"values":[{}]},"mark":{"type":"rect","fill":"#e1e1e1","stroke":"#000000","strokeWidth":1},
     "encoding":{"x":{"datum":0},"x2":{"datum":49.55},"y":{"datum":150},"y2":{"datum":0}}},
    {"data":{"name":"haus"},"mark":{"type":"line","clip":true},
     "encoding":{
      "x":{"field":"f","type":"quantitative","scale":{"domain":[0,49.55],"nice":false},
           "axis":{"zindex":1,"tickCount":10,"labelOverlap":false,"values":[0,5,10,15,20,25,30,35,40,45],"title":"Frames","labelFont":"Liberation Sans Narrow, DejaVu Sans Condensed, sans-serif","labelFontSize":12,"titleFont":"Liberation Sans Narrow, DejaVu Sans Condensed, sans-serif","titleFontSize":12,"labelPadding":5,"titlePadding":3}},
      "y":{"field":"v","type":"quantitative","scale":{"domain":[0,150],"nice":false,"zero":false},
           "axis":{"zindex":1,"tickCount":4,"labelOverlap":false,"values":[0,50,100,150],"title":"Hausdroff","labelFont":"Liberation Sans Narrow, DejaVu Sans Condensed, sans-serif","labelFontSize":11,"titleFont":"Liberation Sans","titleFontSize":11,"labelPadding":6,"titlePadding":2}},
      "color":{"field":"s","type":"nominal","scale":{"domain":["(1)","(2)","(3)","(4)","(5)"],"range":["#1a1a80","#a84040","#55c855","#505058","#60d0d0"]},
           "legend":{"title":null,"orient":"top-right","offset":4,"zindex":2,"fillColor":"#e1e1e1","strokeColor":"#000000","padding":5,"symbolType":"M-1,0L9,0","symbolSize":31,"symbolStrokeWidth":1.8,"symbolOffset":0,"labelOffset":19,"labelFont":"Liberation Sans Narrow, DejaVu Sans Condensed, sans-serif","labelFontSize":12,"labelColor":"#111111","rowPadding":5.5}},
      "strokeWidth":{"field":"s","type":"ordinal","scale":{"domain":["(1)","(2)","(3)","(4)","(5)"],"range":[1,1,2.5,2.5,2.5]},"legend":null}
     }}
   ]}
 ],"spacing":76,"bounds":"flush","resolve":{"scale":{"color":"independent","strokeWidth":"independent"},"legend":{"color":"independent"}}}
]
}
